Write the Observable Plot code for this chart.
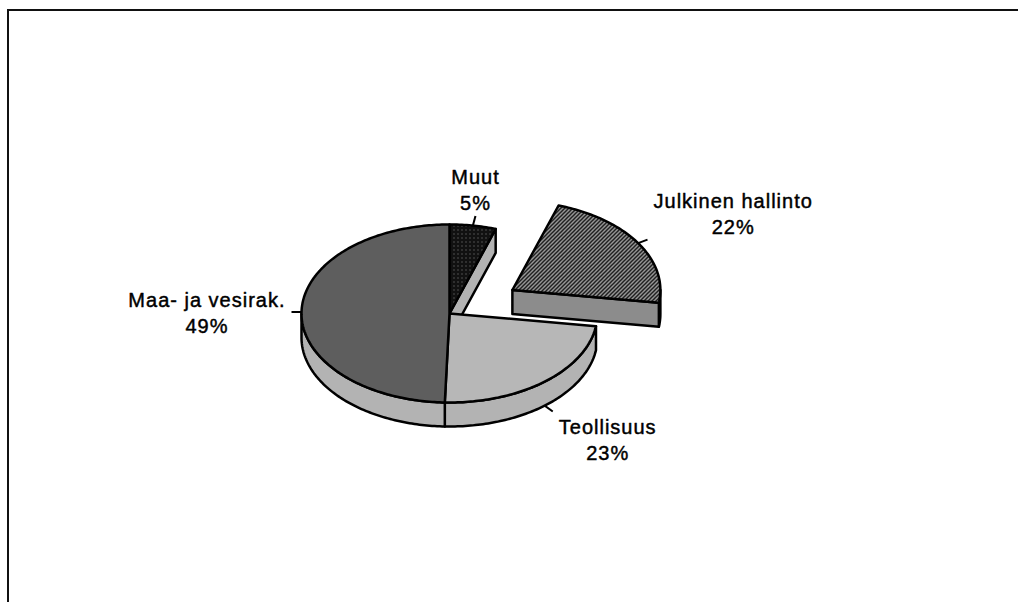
<!DOCTYPE html>
<html><head><meta charset="utf-8">
<script src="https://cdn.jsdelivr.net/npm/d3@7"></script>
<script src="https://cdn.jsdelivr.net/npm/@observablehq/plot@0.6"></script>
<style>
html,body{margin:0;padding:0;background:#fff;overflow:hidden}
#wrap{position:relative;width:1018px;height:602px;overflow:hidden}
#frame{position:absolute;left:7px;top:9px;right:-10px;bottom:-10px;border-top:2px solid #111;border-left:2px solid #111;pointer-events:none}
#chart text{letter-spacing:1px}
</style></head><body>
<div id="wrap"><div id="chart"></div><div id="frame"></div></div>
<script>
// ---- data ----
const categories = ["Muut", "Julkinen hallinto", "Teollisuus", "Maa- ja vesirak."];
const values = [5, 22, 23, 49];
const percentLabels = ["5%", "22%", "23%", "49%"];
const exploded = [false, true, false, false];

// ---- styles ----
const topFills = ["url(#p-muut)", "url(#p-julk)", "url(#p-teol)", "url(#p-maa)"];
const sideFills = ["url(#p-light)", "url(#p-mid)", "url(#p-light)", "url(#p-light)"];

// ---- layout ----
const W = 1018, H = 602;
const R = 148;               // px per unit radius
const CX = 449, CY = 313;    // pie centre in px
const TILT = 89 / 148, DEPTH = 24 / 148, EXPLODE = 0.5;
const FONT_SIZE = 20, LETTER = 1, LEADER = 10, GAP = 6, HALF_BLOCK = 27;

const deg = Math.PI / 180;
function pt(c, th, bottom) {
  return {x: c.x + Math.sin(th), y: c.y + Math.cos(th) * TILT - (bottom ? DEPTH : 0)};
}
function arc(c, a, b, bottom) {
  const n = Math.max(2, Math.ceil(Math.abs(b - a) / deg));
  return d3.range(n + 1).map(i => pt(c, a + (b - a) * i / n, bottom));
}
function face(c, phi) {
  return [{x: c.x, y: c.y}, pt(c, phi, false), pt(c, phi, true), {x: c.x, y: c.y - DEPTH}];
}

const total = d3.sum(values);
let acc = 0;
const slices = categories.map((name, i) => {
  const a = acc / total * 2 * Math.PI; acc += values[i];
  const b = acc / total * 2 * Math.PI;
  const m = (a + b) / 2;
  const off = exploded[i] ? EXPLODE : 0;
  return {i, name, pct: percentLabels[i], a, b, m, exploded: exploded[i],
          c: {x: off * Math.sin(m), y: off * Math.cos(m) * TILT}};
});
const n = slices.length;

const polyRows = [];
let key = 0;
function addPoly(fill, pts) { const k = key++; pts.forEach(p => polyRows.push({key: k, fill, x: p.x, y: p.y})); }

const groups = [
  ...slices.filter(s => s.exploded).sort((p, q) => q.c.y - p.c.y).map(s => [s]),
  slices.filter(s => !s.exploded)
];
for (const group of groups) {
  for (const s of group) {
    const lo = Math.max(s.a, Math.PI / 2), hi = Math.min(s.b, 1.5 * Math.PI);
    if (lo < hi) addPoly(sideFills[s.i], arc(s.c, lo, hi, false).concat(arc(s.c, hi, lo, true)));
    const prev = slices[(s.i - 1 + n) % n], next = slices[(s.i + 1) % n];
    if ((s.exploded || prev.exploded) && Math.sin(s.a) < -1e-9) addPoly(sideFills[s.i], face(s.c, s.a));
    if ((s.exploded || next.exploded) && Math.sin(s.b) > 1e-9) addPoly(sideFills[s.i], face(s.c, s.b));
  }
  for (const s of group) addPoly(topFills[s.i], [{x: s.c.x, y: s.c.y}].concat(arc(s.c, s.a, s.b, false)));
}

// labels
const ctx = document.createElement("canvas").getContext("2d");
ctx.font = `${FONT_SIZE}px "Liberation Sans", Arial, sans-serif`;
const textW = s => ctx.measureText(s).width + s.length * LETTER;
const labelRows = slices.map(s => {
  const front = Math.cos(s.m) < 0;
  const x1 = s.c.x + Math.sin(s.m), y1 = s.c.y + Math.cos(s.m) * TILT - (front ? DEPTH : 0);
  let ux = Math.sin(s.m), uy = Math.cos(s.m) * TILT;
  const len = Math.hypot(ux, uy); ux /= len; uy /= len;
  const x2 = x1 + ux * LEADER / R, y2 = y1 + uy * LEADER / R;
  const w = Math.max(textW(s.name), textW(s.pct));
  const hx = Math.abs(ux) > 0.3 ? Math.sign(ux) : 0;
  const hy = Math.abs(uy) > 0.3 ? Math.sign(uy) : 0;
  return {text: s.name + "\n" + s.pct, x1, y1, x2, y2,
          lx: x2 + hx * (w / 2 + GAP) / R, ly: y2 + hy * HALF_BLOCK / R};
});

const svg = Plot.plot({
  width: W, height: H, margin: 0,
  x: {domain: [-CX / R, (W - CX) / R], axis: null},
  y: {domain: [(CY - H) / R, CY / R], axis: null},
  color: {type: "identity"},
  marks: [
    Plot.line(polyRows, {x: "x", y: "y", z: "key", fill: "fill", stroke: "#000",
      strokeWidth: 2.5, strokeLinejoin: "round", curve: "linear-closed"}),
    Plot.link(labelRows, {x1: "x1", y1: "y1", x2: "x2", y2: "y2", stroke: "#000", strokeWidth: 2}),
    Plot.text(labelRows, {x: "lx", y: "ly", text: "text", fontSize: FONT_SIZE,
      fontFamily: "'Liberation Sans', Arial, sans-serif", lineHeight: 1.3,
      textAnchor: "middle", lineAnchor: "middle", fill: "#000", stroke: "#000", strokeWidth: 0.45})
  ]
});

// dither patterns
const defs = d3.select(svg).insert("defs", ":first-child");
function pat(id, size, bg, pixels) {
  const p = defs.append("pattern").attr("id", id).attr("patternUnits", "userSpaceOnUse")
    .attr("width", size).attr("height", size);
  p.append("rect").attr("width", size).attr("height", size).attr("fill", bg);
  pixels.forEach(([x, y, c]) => p.append("rect").attr("x", x).attr("y", y)
    .attr("width", 1).attr("height", 1).attr("fill", c || "#000"));
  return p;
}
pat("p-muut", 4, "#111", [[1, 1, "#888"]]);
pat("p-maa", 2, "#bdbdbd", [[0, 0], [1, 1]]);
pat("p-teol", 2, "#fff", [[0, 0], [1, 1, "#ddd"]]);
pat("p-light", 2, "#fff", [[0, 0], [1, 1, "#ccc"]]);
pat("p-mid", 2, "#fff", [[0, 0], [1, 1, "#333"]]);
const hj = defs.append("pattern").attr("id", "p-julk").attr("patternUnits", "userSpaceOnUse")
  .attr("width", 4).attr("height", 4);
hj.append("rect").attr("width", 4).attr("height", 4).attr("fill", "#fff");
hj.append("path").attr("d", "M-1,1L1,-1M0,4L4,0M3,5L5,3").attr("stroke", "#000").attr("stroke-width", 1.9);

document.getElementById("chart").appendChild(svg);
</script>
</body></html>
